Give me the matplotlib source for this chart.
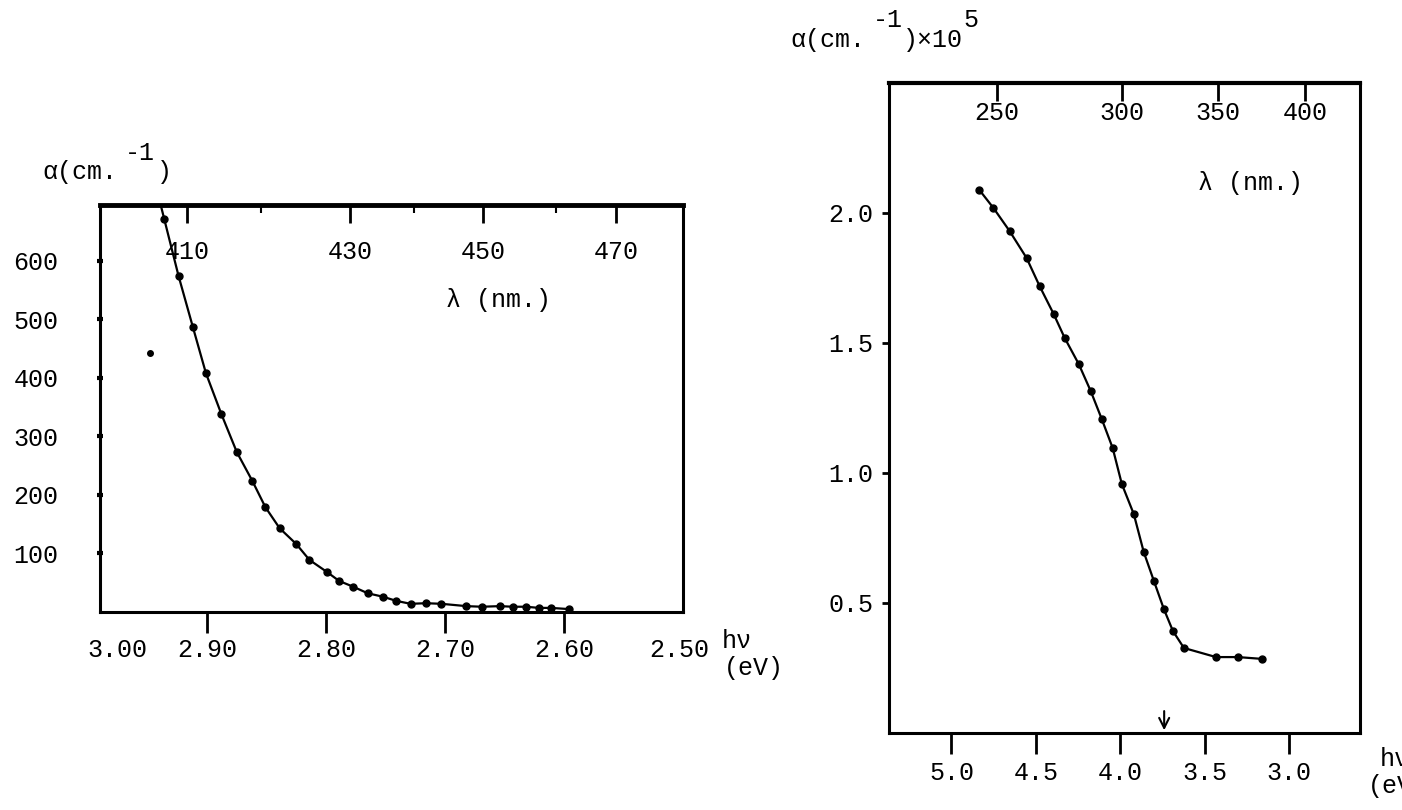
import numpy as np
import matplotlib.pyplot as plt

# photon energy (eV) and absorption coefficient (cm^-1), visible edge
hv_vis = [2.936, 2.924, 2.912, 2.901, 2.888, 2.875, 2.862, 2.851, 2.839, 2.825,
          2.814, 2.799, 2.789, 2.777, 2.765, 2.752, 2.741, 2.729, 2.716, 2.703,
          2.682, 2.669, 2.654, 2.643, 2.632, 2.621, 2.611, 2.596]
alpha_vis = [671, 574, 487, 408, 338, 273, 224, 179, 143, 116,
             89, 68, 53, 43, 32, 26, 19, 14, 15, 14,
             10, 9, 10, 9, 9, 7, 7, 5]
hv_odd = [2.948]
alpha_odd = [442]

# UV edge, alpha in units of 1e5 cm^-1
hv_uv = [4.834, 4.751, 4.656, 4.555, 4.478, 4.395, 4.329, 4.246, 4.175, 4.110,
         4.045, 3.991, 3.920, 3.861, 3.801, 3.742, 3.688, 3.623, 3.433, 3.303, 3.160]
alpha_uv = [2.088, 2.019, 1.931, 1.827, 1.719, 1.612, 1.519, 1.419, 1.315, 1.208,
            1.096, 0.958, 0.842, 0.696, 0.585, 0.477, 0.392, 0.327, 0.292, 0.292, 0.285]
edge_hv = 3.74

# tick labels
vis_hv_ticks = [2.90, 2.80, 2.70, 2.60]
vis_hv_labels = ['2.90', '2.80', '2.70', '2.60']
vis_alpha_ticks = [100, 200, 300, 400, 500, 600]
vis_nm_pos = [2.917, 2.780, 2.668, 2.556]
vis_nm_minor = [2.855, 2.726, 2.607]
vis_nm_labels = ['410', '430', '450', '470']

uv_hv_ticks = [5.0, 4.5, 4.0, 3.5, 3.0]
uv_alpha_ticks = [0.5, 1.0, 1.5, 2.0]
uv_nm_pos = [4.733, 3.991, 3.421, 2.905]
uv_nm_labels = ['250', '300', '350', '400']

W, H = 1402, 810
FONT = 'Liberation Mono'
FS = 18

plt.rcParams['font.family'] = FONT
plt.rcParams['font.size'] = FS

fig = plt.figure(figsize=(W / 100, H / 100), dpi=100)


def typed(px, py, s, size=FS):
    fig.text(px / W, 1 - py / H, s, fontsize=size, ha='left', va='center')


def frame(ax, top_lw):
    for side in ['left', 'right', 'bottom']:
        ax.spines[side].set_linewidth(2.2)
    ax.spines['top'].set_linewidth(top_lw)


# ---- left: visible absorption edge ----
ax1 = fig.add_axes([100 / W, 1 - 612 / H, 583 / W, 407 / H])
ax1.set_xlim(2.99, 2.50)
ax1.set_ylim(0, 695)
frame(ax1, 3.5)

# carry the curve up to the top of the frame along the first segment
slope = (hv_vis[0] - hv_vis[1]) / (alpha_vis[0] - alpha_vis[1])
hv_line = [hv_vis[0] + slope * (720 - alpha_vis[0])] + hv_vis
alpha_line = [720] + alpha_vis
ax1.plot(hv_line, alpha_line, color='black', lw=1.6)
ax1.plot(hv_vis, alpha_vis, 'o', color='black', ms=5)
ax1.plot(hv_odd, alpha_odd, 'o', color='black', ms=4)

ax1.set_xticks(vis_hv_ticks, labels=vis_hv_labels)
ax1.set_xticks([2.975, 2.503], labels=['3.00', '2.50'], minor=True)
ax1.tick_params(axis='x', which='major', direction='out', length=15, width=2, pad=4)
ax1.tick_params(axis='x', which='minor', length=0, pad=19)
ax1.set_yticks(vis_alpha_ticks, labels=[str(v) for v in vis_alpha_ticks])
ax1.tick_params(axis='y', direction='inout', length=4, width=3, pad=28)

top1 = ax1.twiny()
top1.set_xlim(ax1.get_xlim())
top1.set_xticks(vis_nm_pos)
top1.set_xticks(vis_nm_minor, minor=True)
top1.tick_params(axis='x', which='major', direction='in', length=13, width=2, labeltop=False)
top1.tick_params(axis='x', which='minor', direction='in', length=6, width=1.5, labeltop=False)
for s in top1.spines.values():
    s.set_visible(False)
for pos, lab in zip(vis_nm_pos, vis_nm_labels):
    ax1.text(pos, 0.885, lab, transform=ax1.get_xaxis_transform(),
             ha='center', va='center', fontsize=FS)

typed(446, 300, 'λ (nm.)')
typed(42, 172, 'α(cm.')
typed(125, 153, '-1')
typed(157, 172, ')')
typed(722, 641, 'hν')
typed(724, 668, '(eV)')

# ---- right: UV absorption edge ----
ax2 = fig.add_axes([889 / W, 1 - 733 / H, 471 / W, 650 / H])
ax2.set_xlim(5.37, 2.58)
ax2.set_ylim(0, 2.5)
frame(ax2, 3.0)

ax2.plot(hv_uv, alpha_uv, color='black', lw=1.6)
ax2.plot(hv_uv, alpha_uv, 'o', color='black', ms=5)
ax2.annotate('', xy=(edge_hv, 0.0), xytext=(edge_hv, 0.095),
             arrowprops=dict(arrowstyle='->', color='black', lw=1.5))

ax2.set_xticks(uv_hv_ticks, labels=['%.1f' % v for v in uv_hv_ticks])
ax2.tick_params(axis='x', direction='out', length=15, width=2, pad=5)
ax2.set_yticks(uv_alpha_ticks, labels=['%.1f' % v for v in uv_alpha_ticks])
ax2.tick_params(axis='y', direction='out', length=5, width=2, pad=6)

top2 = ax2.twiny()
top2.set_xlim(ax2.get_xlim())
top2.set_xticks(uv_nm_pos)
top2.tick_params(axis='x', direction='in', length=13, width=2, labeltop=False)
for s in top2.spines.values():
    s.set_visible(False)
for pos, lab in zip(uv_nm_pos, uv_nm_labels):
    ax2.text(pos, 0.954, lab, transform=ax2.get_xaxis_transform(),
             ha='center', va='center', fontsize=FS)

typed(1198, 183, 'λ (nm.)')
typed(790, 40, 'α(cm.')
typed(873, 20, '-1')
typed(903, 40, ')×10')
typed(963, 20, '5')
typed(1380, 759, 'hν')
typed(1368, 786, '(eV)')

fig.savefig('out.png', dpi=100)
